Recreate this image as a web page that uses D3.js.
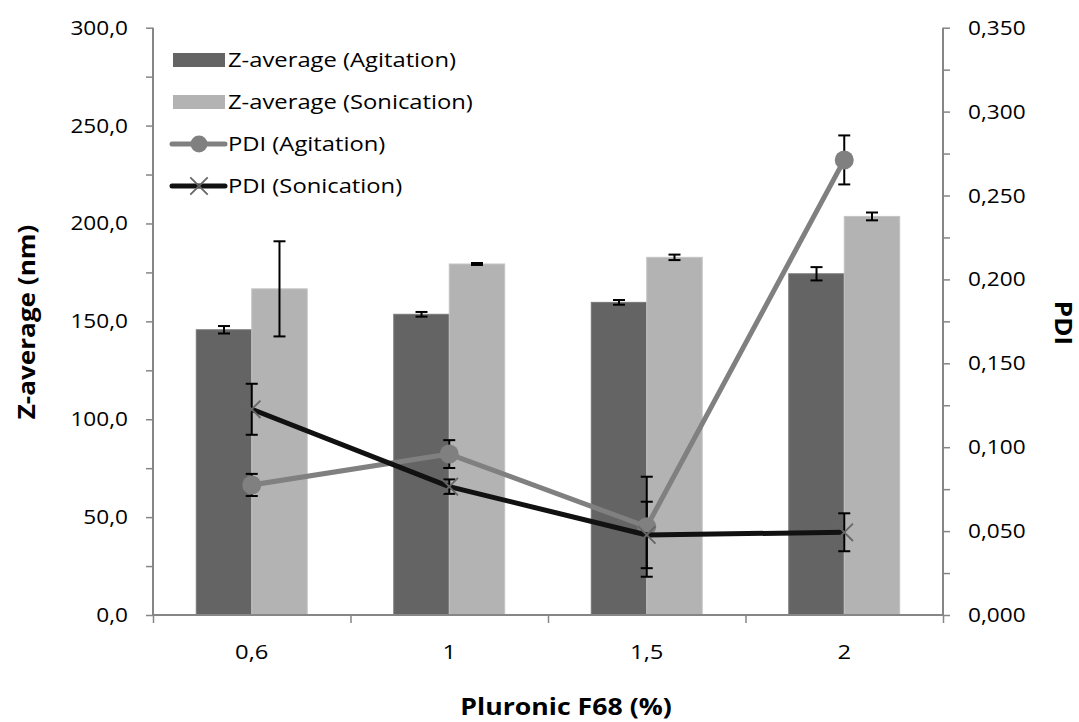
<!DOCTYPE html>
<html>
<head>
<meta charset="utf-8">
<script src="https://cdn.jsdelivr.net/npm/d3@7/dist/d3.min.js"></script>
<style>
  html, body { margin: 0; padding: 0; background: #fff; }
  svg { display: block; font-family: "Open Sans", "Noto Sans", sans-serif; }
</style>
</head>
<body>
<svg id="chart" width="1079" height="722"></svg>
<script>
// Pluronic F68 concentrations (%)
const categories = ["0,6", "1", "1,5", "2"];

// Z-average (nm) with standard deviations
const zAgitation     = [145.7, 153.6, 159.7, 174.3];
const zAgitationErr  = [1.9, 1.2, 1.2, 3.4];
const zSonication    = [166.6, 179.3, 182.7, 203.6];
const zSonicationErr = [24.3, 0.5, 1.4, 2.0];

// Polydispersity index with standard deviations
const pdiAgitation     = [0.0775, 0.0959, 0.0526, 0.2712];
const pdiAgitationErr  = [0.0066, 0.0083, 0.0298, 0.0146];
const pdiSonication    = [0.1226, 0.0765, 0.0477, 0.0493];
const pdiSonicationErr = [0.0152, 0.0043, 0.0198, 0.0113];

// Axis ticks
const leftTicks  = [0, 50, 100, 150, 200, 250, 300];
const rightTicks = [0, 0.05, 0.1, 0.15, 0.2, 0.25, 0.3, 0.35];

const legendLabels = ["Z-average (Agitation)", "Z-average (Sonication)", "PDI (Agitation)", "PDI (Sonication)"];

const C = {
  axis: "#868686",
  barDark: "#646464",
  barLight: "#b3b3b3",
  pdiAg: "#808080",
  pdiSon: "#111111",
  xMark: "#666666",
  err: "#000000",
  text: "#000000"
};

// horizontal stretch applied to all text
const SX = 1.16;

const svg = d3.select("#chart");
const plot = { left: 153, right: 943, top: 27.7, bottom: 615 };

const locale = d3.formatLocale({ decimal: ",", thousands: ".", grouping: [3], currency: ["", ""] });
const fmtLeft = locale.format(".1f");
const fmtRight = locale.format(".3f");

const x = d3.scaleBand().domain(categories).range([plot.left, plot.right]).paddingInner(0).paddingOuter(0);
const xSub = d3.scaleBand().domain(["ag", "son"]).range([0, x.bandwidth()]).paddingInner(0).paddingOuter(0.78);
const yL = d3.scaleLinear().domain([0, 300]).range([plot.bottom, plot.top]);
const yR = d3.scaleLinear().domain([0, 0.35]).range([plot.bottom, plot.top]);
const cx = c => x(c) + x.bandwidth() / 2;

// ---- bars ----
const barSeries = [
  { key: "ag", values: zAgitation, errs: zAgitationErr, fill: C.barDark, stroke: "#787878" },
  { key: "son", values: zSonication, errs: zSonicationErr, fill: C.barLight, stroke: "#c4c4c4" }
];
const gBars = svg.append("g");
barSeries.forEach(s => {
  gBars.selectAll(null).data(categories).enter().append("rect")
    .attr("x", c => x(c) + xSub(s.key))
    .attr("width", xSub.bandwidth())
    .attr("y", (c, i) => yL(s.values[i]))
    .attr("height", (c, i) => yL(0) - yL(s.values[i]))
    .attr("fill", s.fill)
    .attr("stroke", s.stroke)
    .attr("stroke-width", 1);
});

function errorBar(g, xPos, yTop, yBot) {
  const cap = 6;
  g.append("line").attr("x1", xPos).attr("x2", xPos).attr("y1", yTop).attr("y2", yBot);
  g.append("line").attr("x1", xPos - cap).attr("x2", xPos + cap).attr("y1", yTop).attr("y2", yTop);
  g.append("line").attr("x1", xPos - cap).attr("x2", xPos + cap).attr("y1", yBot).attr("y2", yBot);
}

const gErr = svg.append("g").attr("stroke", C.err).attr("stroke-width", 2);
barSeries.forEach(s => {
  categories.forEach((c, i) => {
    const xm = x(c) + xSub(s.key) + xSub.bandwidth() / 2;
    errorBar(gErr, xm, yL(s.values[i] + s.errs[i]), yL(s.values[i] - s.errs[i]));
  });
});

// ---- axes ----
const axisLeft = d3.axisLeft(yL).tickValues(d3.range(0, 301, 25)).tickSize(7).tickFormat("");
const gL = svg.append("g").attr("transform", `translate(${plot.left},0)`).call(axisLeft);
const axisRight = d3.axisRight(yR).tickValues(d3.range(0, 0.3501, 0.025)).tickSize(7).tickFormat("");
const gR = svg.append("g").attr("transform", `translate(${plot.right},0)`).call(axisRight);
const xBounds = d3.scaleLinear().domain([0, categories.length]).range([plot.left, plot.right]);
const axisBottom = d3.axisBottom(xBounds).tickValues(d3.range(0, categories.length + 1)).tickSize(8).tickFormat("");
const gB = svg.append("g").attr("transform", `translate(0,${plot.bottom})`).call(axisBottom);
[gL, gR, gB].forEach(g => {
  g.select(".domain").attr("stroke", C.axis).attr("stroke-width", 2);
  g.selectAll(".tick line").attr("stroke", C.axis).attr("stroke-width", 1.5);
});
gL.select(".domain").attr("d", `M0,${plot.top}V${plot.bottom}`);
gR.select(".domain").attr("d", `M0,${plot.top}V${plot.bottom}`);
gB.select(".domain").attr("d", `M${plot.left},0H${plot.right}`);

// tick labels
svg.append("g").selectAll("text").data(leftTicks).enter().append("text")
  .attr("transform", d => `translate(128,${yL(d)}) scale(${SX},1)`).attr("dy", "0.36em")
  .attr("text-anchor", "end").attr("font-size", 19.5).attr("fill", C.text)
  .text(d => fmtLeft(d));
svg.append("g").selectAll("text").data(rightTicks).enter().append("text")
  .attr("transform", d => `translate(968,${yR(d)}) scale(${SX},1)`).attr("dy", "0.36em")
  .attr("text-anchor", "start").attr("font-size", 19.5).attr("fill", C.text)
  .text(d => fmtRight(d));
svg.append("g").selectAll("text").data(categories).enter().append("text")
  .attr("transform", d => `translate(${cx(d)},652) scale(${SX},1)`).attr("dy", "0.36em")
  .attr("text-anchor", "middle").attr("font-size", 20.5).attr("fill", C.text)
  .text(d => d);

// axis titles
svg.append("text").attr("transform", `translate(566,707) scale(${SX},1)`).attr("dy", "0.35em")
  .attr("text-anchor", "middle").attr("font-size", 23).attr("font-weight", "bold")
  .text("Pluronic F68 (%)");
svg.append("text").attr("transform", `translate(27,322) rotate(-90) scale(${SX},1)`).attr("dy", "0.35em")
  .attr("text-anchor", "middle").attr("font-size", 22.5).attr("font-weight", "bold")
  .text("Z-average (nm)");
svg.append("text").attr("transform", `translate(1063,323) rotate(90) scale(${SX},1)`).attr("dy", "0.35em")
  .attr("text-anchor", "middle").attr("font-size", 22.5).attr("font-weight", "bold")
  .text("PDI");

// ---- PDI lines ----
const line = d3.line().x(d => cx(d.c)).y(d => yR(d.v));
const agPts = categories.map((c, i) => ({ c, v: pdiAgitation[i], e: pdiAgitationErr[i] }));
const sonPts = categories.map((c, i) => ({ c, v: pdiSonication[i], e: pdiSonicationErr[i] }));

const gPdiErr = svg.append("g").attr("stroke", C.err).attr("stroke-width", 2);
agPts.concat(sonPts).forEach(p => errorBar(gPdiErr, cx(p.c), yR(p.v + p.e), yR(p.v - p.e)));

svg.append("path").datum(agPts).attr("d", line).attr("fill", "none")
  .attr("stroke", C.pdiAg).attr("stroke-width", 5).attr("stroke-linejoin", "round");
svg.append("g").selectAll("circle").data(agPts).enter().append("circle")
  .attr("cx", d => cx(d.c)).attr("cy", d => yR(d.v)).attr("r", 9.5).attr("fill", C.pdiAg);

svg.append("path").datum(sonPts).attr("d", line).attr("fill", "none")
  .attr("stroke", C.pdiSon).attr("stroke-width", 5).attr("stroke-linejoin", "round");
const xMark = d3.symbol().type(d3.symbolX).size(200);
svg.append("g").selectAll("path").data(sonPts).enter().append("path")
  .attr("transform", d => `translate(${cx(d.c)},${yR(d.v)})`)
  .attr("d", xMark).attr("fill", "none").attr("stroke", C.xMark).attr("stroke-width", 1.8);

// ---- legend ----
const legend = svg.append("g");
const rowY = [60, 102, 144, 186];
legend.append("rect").attr("x", 173).attr("y", rowY[0] - 7).attr("width", 52).attr("height", 14).attr("fill", C.barDark);
legend.append("rect").attr("x", 173).attr("y", rowY[1] - 7).attr("width", 52).attr("height", 14).attr("fill", C.barLight);
legend.append("line").attr("x1", 172).attr("x2", 225).attr("y1", rowY[2]).attr("y2", rowY[2])
  .attr("stroke", C.pdiAg).attr("stroke-width", 5).attr("stroke-linecap", "round");
legend.append("circle").attr("cx", 199).attr("cy", rowY[2]).attr("r", 8.5).attr("fill", C.pdiAg);
legend.append("line").attr("x1", 172).attr("x2", 225).attr("y1", rowY[3]).attr("y2", rowY[3])
  .attr("stroke", C.pdiSon).attr("stroke-width", 5).attr("stroke-linecap", "round");
legend.append("path").attr("transform", `translate(199,${rowY[3]})`).attr("d", xMark)
  .attr("fill", "none").attr("stroke", C.xMark).attr("stroke-width", 1.8);
legend.selectAll("text").data(legendLabels).enter().append("text")
  .attr("transform", (d, i) => `translate(228,${rowY[i]}) scale(${SX},1)`).attr("dy", "0.36em")
  .attr("font-size", 20.5).attr("fill", C.text).text(d => d);
</script>
</body>
</html>
